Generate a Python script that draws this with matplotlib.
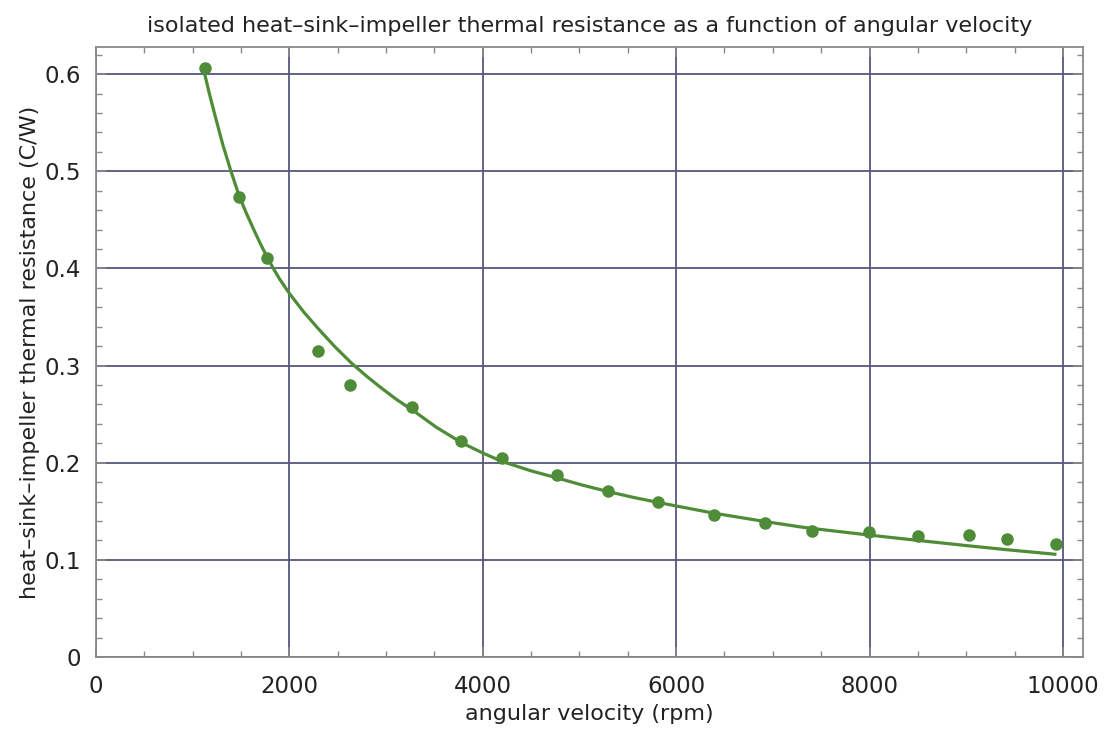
import matplotlib
matplotlib.use("Agg")
import matplotlib.pyplot as plt
from matplotlib.ticker import MultipleLocator

# measured data points
rpm = [1127, 1476, 1771, 2296, 2627, 3271, 3775, 4195, 4767, 5295, 5812,
       6391, 6918, 7401, 7994, 8497, 9028, 9418, 9924]
resistance = [0.6066, 0.4733, 0.4106, 0.3151, 0.2798, 0.2578, 0.2221, 0.2049,
              0.1874, 0.1710, 0.1596, 0.1462, 0.1380, 0.1300, 0.1290, 0.1249,
              0.1253, 0.1218, 0.1167]

# fitted curve
fit_rpm = [1110, 1170, 1231, 1310, 1393, 1476, 1550, 1627, 1700, 1771, 1840,
           1903, 2006, 2150, 2299, 2470, 2643, 2800, 2950, 3110, 3281, 3520,
           3780, 4000, 4195, 4488, 4781, 5030, 5288, 5550, 5819, 6000, 6394,
           6918, 7280, 7394, 8000, 8504, 9021, 9417, 9917]
fit_res = [0.6063, 0.5810, 0.5575, 0.5280, 0.5010, 0.4760, 0.4580, 0.4410,
           0.4255, 0.4115, 0.3990, 0.3885, 0.3735, 0.3550, 0.3380, 0.3195,
           0.3025, 0.2890, 0.2770, 0.2650, 0.2537, 0.2365, 0.2207, 0.2100,
           0.2015, 0.1920, 0.1840, 0.1770, 0.1705, 0.1645, 0.1590, 0.1555,
           0.1480, 0.1395, 0.1340, 0.1325, 0.1255, 0.1200, 0.1145, 0.1105,
           0.1058]

xticks = [0, 2000, 4000, 6000, 8000, 10000]
yticks = [0, 0.1, 0.2, 0.3, 0.4, 0.5, 0.6]
ytick_labels = ["0", "0.1", "0.2", "0.3", "0.4", "0.5", "0.6"]

plt.rcParams['font.family'] = ['DejaVu Sans']

green = '#4f8c37'
gridc = '#56567e'
framec = '#8a8a8a'
textc = '#222222'

fig = plt.figure(figsize=(11.06, 7.30), dpi=100)
ax = fig.add_axes([0.0868, 0.100, 0.9792 - 0.0868, 0.9356 - 0.100])

ax.plot(fit_rpm, fit_res, color=green, lw=2.3, zorder=3)
ax.plot(rpm, resistance, 'o', color=green, ms=8, mec=green, zorder=4)

ax.set_xlim(0, 10208)
ax.set_ylim(0, 0.628)
ax.set_xticks(xticks)
ax.set_xticklabels([str(v) for v in xticks])
ax.set_yticks(yticks)
ax.set_yticklabels(ytick_labels)
ax.xaxis.set_minor_locator(MultipleLocator(500))
ax.yaxis.set_minor_locator(MultipleLocator(0.02))

ax.grid(True, which='major', color=gridc, lw=1.3, zorder=1)
ax.set_axisbelow(True)

ax.tick_params(which='both', direction='in', top=True, right=True,
               colors=framec, labelcolor=textc, labelsize=16.5)
ax.tick_params(axis='x', which='both', pad=13)
ax.tick_params(axis='y', which='both', pad=11)
ax.tick_params(which='major', length=7, width=1.2)
ax.tick_params(which='minor', length=4.5, width=1.0)
for s in ax.spines.values():
    s.set_color(framec)
    s.set_linewidth(1.3)

ax.set_xlabel('angular velocity (rpm)', fontsize=16, color=textc, labelpad=4)
ax.set_ylabel('heat\u2013sink\u2013impeller thermal resistance (C/W)', fontsize=16,
              color=textc, labelpad=3)
ax.set_title('isolated heat\u2013sink\u2013impeller thermal resistance as a function of angular velocity',
             fontsize=16, color=textc, pad=11)

fig.savefig('out.png', dpi=100)
